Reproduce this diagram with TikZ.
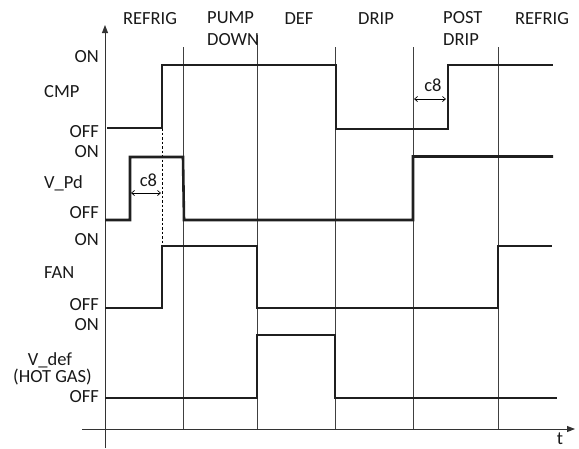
\documentclass[tikz,border=0pt]{standalone}
\usepackage{fontspec}
\setmainfont{Carlito}
\usetikzlibrary{arrows.meta}
\begin{document}
\begin{tikzpicture}[x=1pt,y=-1pt,
  lbl/.style={inner sep=0pt,font=\fontsize{18.5}{22}\selectfont,text=black!90},
  lvl/.style={lbl,anchor=east},
  sig/.style={line width=2.6pt,black!88,line join=miter},
  phase/.style={line width=0.9pt,black!75},
  axis/.style={line width=0.9pt,black!80},
  dim/.style={line width=0.7pt,black,{Straight Barb[length=3pt,width=5pt]}-{Straight Barb[length=3pt,width=5pt]}}]
\useasboundingbox (0,0) rectangle (579,448);
% axes
\coordinate (yb) at (105,448);
\coordinate (yt) at (105,25);
\coordinate (tl) at (82,429);
\coordinate (tr) at (575,429);
\draw[axis,-{Triangle[length=8pt,width=6pt]}] (yb) -- (yt);
\draw[axis,-{Triangle[length=8pt,width=6pt]}] (tl) -- (tr);
\node[lbl] (t) at (560,438.5) {t};
% phase lines
\foreach \n/\x/\y in {p1/183/47,p2/257/35,p3/335/47,p4/413/47,p5/498/47}{
  \coordinate (\n t) at (\x,\y);
  \coordinate (\n b) at (\x,429);
  \draw[phase] (\n t) -- (\n b);
}
% phase labels
\node[lbl] (refrig1) at (150,18.5) {REFRIG};
\node[lbl,anchor=west,align=left] (pump) at (207,28.5) {PUMP\\DOWN};
\node[lbl] (def) at (299,18.5) {DEF};
\node[lbl] (drip) at (376,18.5) {DRIP};
\node[lbl,anchor=west,align=left] (post) at (443,28.5) {POST\\DRIP};
\node[lbl] (refrig2) at (542,18.5) {REFRIG};
% level labels
\node[lvl] (on1) at (99,57) {ON};
\node[lbl,anchor=west] (cmp) at (44,92) {CMP};
\node[lvl] (off1) at (99,131.5) {OFF};
\node[lvl] (on2) at (99,152) {ON};
\node[lbl,anchor=west] (vpd) at (44,183) {V\_Pd};
\node[lvl] (off2) at (99,213) {OFF};
\node[lvl] (on3) at (99,240) {ON};
\node[lbl,anchor=west] (fan) at (44,273) {FAN};
\node[lvl] (off3) at (99,305) {OFF};
\node[lvl] (on4) at (99,325) {ON};
\node[lbl] (vdef) at (50,360) {V\_def};
\node[lbl] (hot) at (52.5,377.5) {(HOT GAS)};
\node[lvl] (off4) at (99,397) {OFF};
% dashed marker
\coordinate (d1) at (162,128);
\coordinate (d2) at (162,245);
\draw[line width=0.7pt,black,dash pattern=on 2.5pt off 2pt] (d1) -- (d2);
% signals
\draw[sig] (107,128) -- (162,128) -- (162,65) -- (336,65) -- (336,129) -- (448,129) -- (448,65) -- (553,65);
\draw[sig] (105,220) -- (130,220) -- (130,157) -- (183,157) -- (184,220) -- (413,220) -- (413,156.5) -- (553,156.5);
\draw[sig] (105,308) -- (162,308) -- (162,246) -- (257,246) -- (257,308) -- (498,308) -- (498,246) -- (552,246);
\draw[sig] (105,398) -- (257,398) -- (257,335) -- (335,335) -- (335,398) -- (557,398);
% c8 dimensions
\coordinate (a1) at (131,193);
\coordinate (a2) at (161,193);
\draw[dim] (a1) -- (a2);
\node[lbl] (c8a) at (148.5,180) {c8};
\coordinate (b1) at (414,99);
\coordinate (b2) at (446,99);
\draw[dim] (b1) -- (b2);
\node[lbl] (c8b) at (433,85) {c8};
\end{tikzpicture}
\end{document}
